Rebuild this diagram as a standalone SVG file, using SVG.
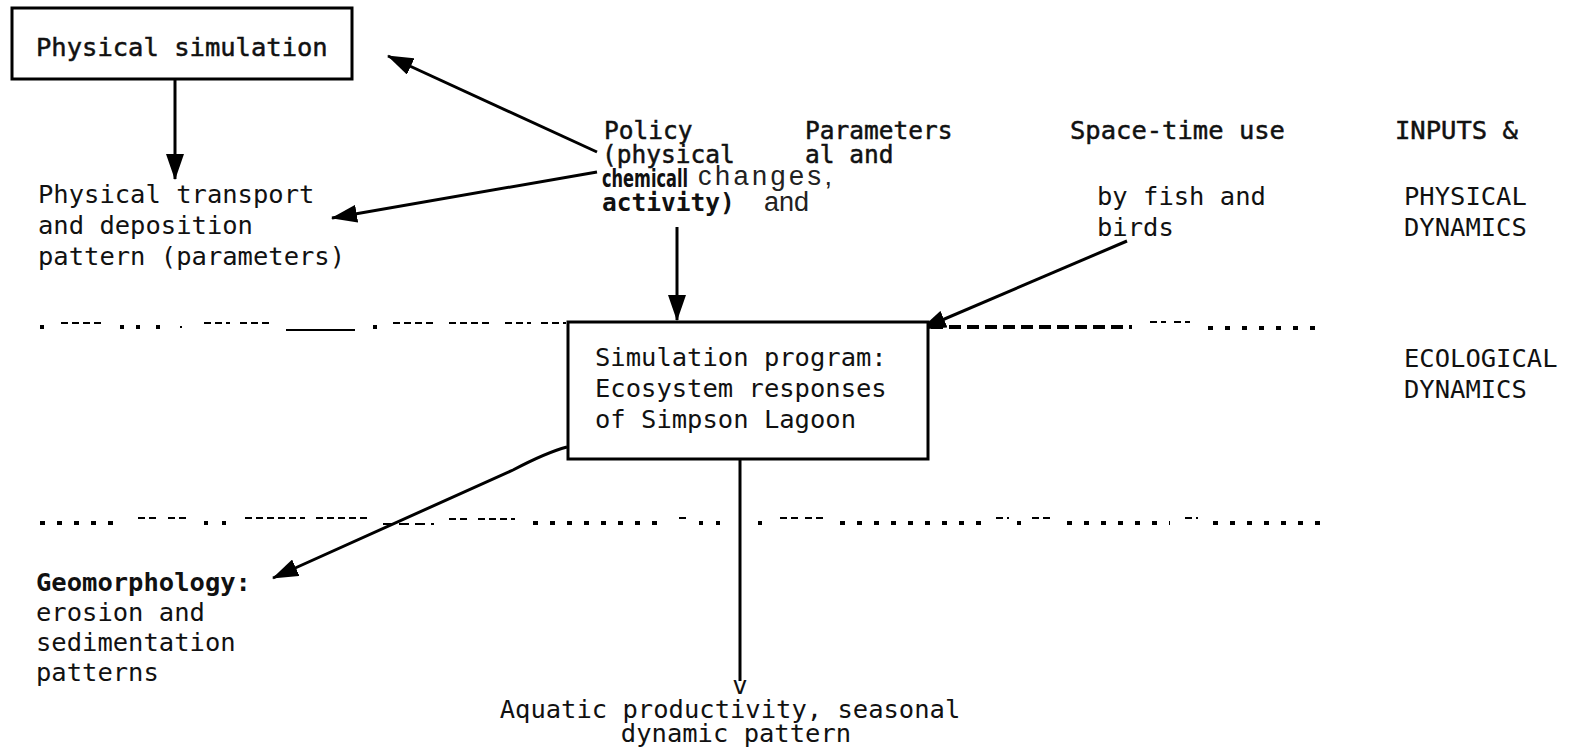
<svg xmlns="http://www.w3.org/2000/svg" width="1569" height="747" viewBox="0 0 1569 747">
<style>
.t{font-family:"DejaVu Sans Mono","Liberation Mono",monospace;font-size:25.5px;fill:#111}
.p{font-size:24.5px}
.b{stroke:#111;stroke-width:0.5px}
.bb{font-weight:bold}
.s{font-family:"Liberation Sans",Arial,sans-serif;font-size:27px;fill:#222}
.nb{font-family:"Liberation Sans Narrow","DejaVu Sans Condensed","Liberation Sans",sans-serif;font-weight:bold;font-size:24px;fill:#111}
.box{fill:#fff;stroke:#000;stroke-width:3}
.c{fill:none;stroke:#000;stroke-width:3}
.d{fill:none;stroke:#000}
</style>
<defs>
<marker id="ah" viewBox="0 0 26 18" refX="25" refY="9" markerWidth="26" markerHeight="18" markerUnits="userSpaceOnUse" orient="auto">
<path d="M0,0 L26,9 L0,18 z" fill="#000"/>
</marker>
</defs>
<rect width="1569" height="747" fill="#fff"/>

<g id="separators">
<g class="d" stroke-width="4">
<path d="M40,327h4M120,327h4M136,327h4M156,327h4M373,327h4M584,328h4M651,328h4M768,327h4M823,328h4"/>
</g>
<g class="d" stroke-width="2">
<path d="M180,327h2"/>
<path d="M61,323h44M204,323h26M240,323h30M393,323h41M449,323h41M505,323h26M541,323h25M684,323h30M724,323h26M790,323h15M881,323h17M1150,322h16M1174,322h16" stroke-dasharray="7 4"/>
<path d="M286,330h69M602,329h33M843,329h20"/>
</g>
<path class="d" stroke-width="4" d="M931,327h201" stroke-dasharray="12 6"/>
<path class="d" stroke-width="4" d="M1208,328h118" stroke-dasharray="5 12"/>

<g class="d" stroke-width="4">
<path d="M40,523h85M533,523h130M840,523h141M1067,523h103M1213,523h113" stroke-dasharray="5 12"/>
<path d="M204,523h4M222,523h4M699,523h4M716,523h4M758,523h4M1017,523h4"/>
</g>
<g class="d" stroke-width="2">
<path d="M138,518h18M168,518h21M245,518h60M316,518h51M449,519h18M478,519h37M679,518h11M780,518h18M805,518h18M996,518h13M1032,518h22M1185,518h13" stroke-dasharray="7 4"/>
<path d="M383,524h51" stroke-dasharray="10 6"/>
</g>
</g>

<g id="connectors">
<path class="c" d="M175,80 L175,179" marker-end="url(#ah)"/>
<path class="c" d="M597,152 L388,56" marker-end="url(#ah)"/>
<path class="c" d="M597,172 L332,218" marker-end="url(#ah)"/>
<path class="c" d="M677,227 L677,320" marker-end="url(#ah)"/>
<path class="c" d="M1127,241 L921,329" marker-end="url(#ah)"/>
<path class="c" d="M567,447 C552,451 532,460 513,470 L273,578" marker-end="url(#ah)"/>
<path class="c" d="M740,459 L740,681"/>
</g>

<g id="node-physical-simulation">
<rect class="box" x="12" y="8" width="340" height="71"/>
<text class="t b" x="36" y="56">Physical simulation</text>
</g>

<g id="node-physical-transport">
<text class="t" x="38" y="203">Physical  transport</text>
<text class="t" x="38" y="234">and deposition</text>
<text class="t" x="38" y="265">pattern (parameters)</text>
</g>

<g id="node-policy">
<text class="t p b" x="604" y="139">Policy</text>
<text class="t p b" x="602" y="163">(physical</text>
<text class="nb" x="602" y="187" textLength="86" lengthAdjust="spacingAndGlyphs">chemicall</text>
<text class="t p bb" x="602" y="211">activity)</text>
<text class="t p b" x="805" y="139">Parameters</text>
<text class="t p b" x="805" y="163">al and</text>
<text class="s" x="698" y="185" letter-spacing="3.5">changes,</text>
<text class="s" x="764" y="211">and</text>
</g>

<g id="node-space-time">
<text class="t b" x="1070" y="139">Space-time use</text>
<text class="t" x="1097" y="205">by fish and</text>
<text class="t" x="1097" y="236">birds</text>
</g>

<g id="node-inputs">
<text class="t b" x="1395" y="139">INPUTS &amp;</text>
<text class="t" x="1404" y="205">PHYSICAL</text>
<text class="t" x="1404" y="236">DYNAMICS</text>
</g>

<g id="node-simulation-program">
<rect class="box" x="568" y="322" width="360" height="137"/>
<text class="t" x="595" y="366">Simulation  program:</text>
<text class="t" x="595" y="397">Ecosystem  responses</text>
<text class="t" x="595" y="428">of Simpson Lagoon</text>
</g>

<g id="node-ecological">
<text class="t" x="1404" y="367">ECOLOGICAL</text>
<text class="t" x="1404" y="398">DYNAMICS</text>
</g>

<g id="node-geomorphology">
<text class="t bb" x="36" y="591">Geomorphology:</text>
<text class="t" x="36" y="621">erosion and</text>
<text class="t" x="36" y="651">sedimentation</text>
<text class="t" x="36" y="681">patterns</text>
</g>

<g id="node-aquatic">
<text class="t" x="740" y="694" text-anchor="middle">v</text>
<text class="t" x="730" y="718" text-anchor="middle">Aquatic productivity, seasonal</text>
<text class="t" x="736" y="742" text-anchor="middle">dynamic pattern</text>
</g>
</svg>
